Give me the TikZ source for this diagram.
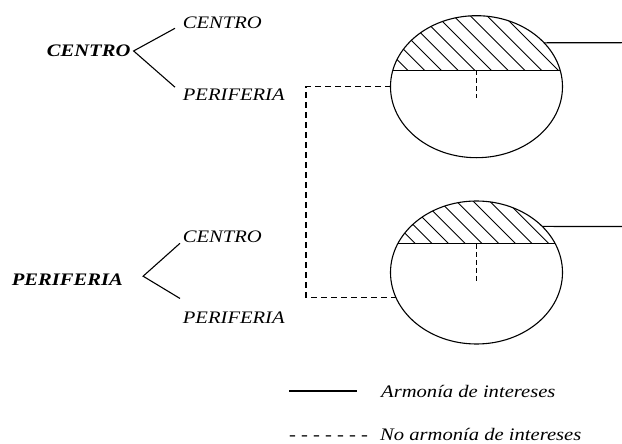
\documentclass[tikz,border=0pt]{standalone}
\usepackage{fontspec}
\setmainfont{Liberation Serif}[FakeStretch=1.17]
\usetikzlibrary{shapes.geometric,calc}
\begin{document}
\begin{tikzpicture}[x=1pt,y=-1pt,
  txt/.style={font=\fontsize{17.6}{20}\selectfont\itshape, inner sep=0pt, anchor=base west},
  btxt/.style={txt, font=\fontsize{17.6}{20}\selectfont\bfseries\itshape},
  oval/.style={draw, ellipse, inner sep=0pt, outer sep=0pt, line width=1.1pt},
  ln/.style={line width=1.1pt},
  dln/.style={line width=1.1pt, dash pattern=on 6pt off 4pt},
  sdln/.style={line width=1.1pt, dash pattern=on 5pt off 3pt},
  hatch/.style={line width=0.9pt}]
\useasboundingbox (0,0) rectangle (622,444);

% left trees
\node[btxt] (c0) at (46.7,56.7) {CENTRO};
\node[txt] (c1) at (182.7,28.3) {CENTRO};
\node[txt] (c2) at (182.7,100.7) {PERIFERIA};
\draw[ln] ([xshift=-7.7pt]c1.base west) -- ([xshift=3pt]c0.east) -- ([xshift=-7.7pt,yshift=1.7pt]c2.north west);

\node[btxt] (p0) at (11.7,285) {PERIFERIA};
\node[txt] (p1) at (182.7,242.7) {CENTRO};
\node[txt] (p2) at (182.7,323.3) {PERIFERIA};
\draw[ln] ([xshift=-2.7pt,yshift=-0.6pt]p1.base west) -- ([xshift=20pt,yshift=3pt]p0.east) -- ([xshift=-2.7pt,yshift=13pt]p2.north west);

% ellipses
\node[oval, minimum width=172pt, minimum height=142pt] (e1) at (476.5,86.7) {};
\node[oval, minimum width=172pt, minimum height=143pt] (e2) at (476.5,272.5) {};

% hatching top
\begin{scope}
  \clip (e1.center) ellipse [x radius=86pt, y radius=71pt];
  \clip (0,0) rectangle (622,70.7);
  \foreach \k in {-2,...,14} {\draw[hatch] (337.6+\k*16.7,0) -- ++(200,200);}
\end{scope}
\begin{scope}
  \clip (e2.center) ellipse [x radius=86pt, y radius=71.5pt];
  \clip (0,150) rectangle (622,243.3);
  \foreach \k in {-2,...,14} {\draw[hatch] (171.7+\k*16.7,0) -- ++(300,300);}
\end{scope}

% chords
\draw[ln] (e1.169) -- (e1.11);
\draw[ln] (e2.160) -- (e2.20);
\draw[sdln] ($(e1.11)!0.5!(e1.169)$) -- ++(0,28);
\draw[sdln] ($(e2.20)!0.5!(e2.160)$) -- ++(0,37);

% right lines
\coordinate (r1) at (622,42.7);
\coordinate (r2) at (622,226.5);
\draw[ln] (e1.33) -- (r1);
\draw[ln] (e2.35) -- (r2);

% dashed connector
\coordinate (k) at (306,0);
\draw[dln] (e1.180) -- (e1.180 -| k) -- (e2.197 -| k) -- (e2.197);

% legend
\coordinate (la) at (289,391);
\coordinate (lb) at (357.3,391);
\draw[line width=1.4pt] (la) -- (lb);
\node[txt] (l1) at (381,397.7) {Armonía de intereses};
\node[txt] (ld) at (289,440.5) {- - - - - - -};
\node[txt] (l2) at (380,440.5) {No armonía de intereses};
\end{tikzpicture}
\end{document}
